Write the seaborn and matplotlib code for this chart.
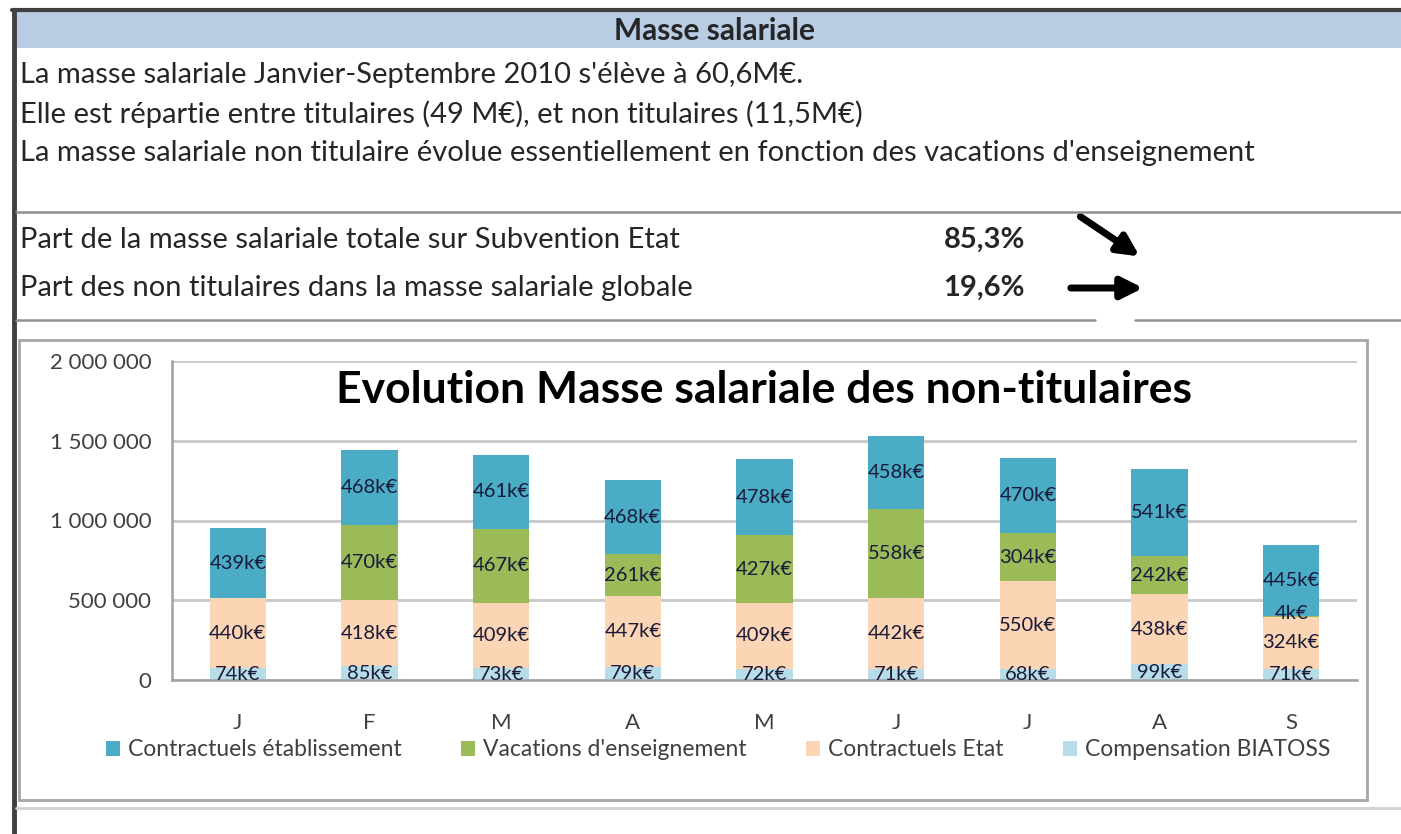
import numpy as np
import pandas as pd
import matplotlib
matplotlib.use('Agg')  # headless
import matplotlib.pyplot as plt
import seaborn as sns
from matplotlib.patches import Rectangle, FancyArrowPatch
from matplotlib.ticker import FuncFormatter, FixedLocator

months = ['J', 'F', 'M', 'A', 'M', 'J', 'J', 'A', 'S']
series = ['Contractuels établissement', "Vacations d'enseignement", 'Contractuels Etat', 'Compensation BIATOSS']
etab = [439, 468, 461, 468, 478, 458, 470, 541, 445]  # k€
vacations = [0, 470, 467, 261, 427, 558, 304, 242, 4]
etat = [440, 418, 409, 447, 409, 442, 550, 438, 324]
biatoss = [74, 85, 73, 79, 72, 71, 68, 99, 71]
colors = ['#4BACC6', '#9BBB59', '#FCD5B4', '#B7DEE8']

intro = ["La masse salariale Janvier-Septembre 2010 s'élève à 60,6M€.",
         "Elle est répartie entre titulaires (49 M€), et non titulaires (11,5M€)",
         "La masse salariale non titulaire évolue essentiellement en fonction des vacations d'enseignement"]
ratios = ['Part de la masse salariale totale sur Subvention Etat',
          'Part des non titulaires dans la masse salariale globale']
ratio_vals = ['85,3%', '19,6%']

sns.set_style('white')
plt.rcParams['font.family'] = ['Lato', 'DejaVu Sans']

W, H = 1401, 834
fig = plt.figure(figsize=(W / 100, H / 100), dpi=100)

# page layer in pixel coords
pg = fig.add_axes([0, 0, 1, 1])
pg.set_xlim(0, W)
pg.set_ylim(H, 0)
pg.axis('off')

pg.add_patch(Rectangle((16, 12), W - 16, 36, color='#B8CCE4', lw=0))  # header band
pg.plot([12, W], [10, 10], color='#404040', lw=3)
pg.plot([14, 14], [10, H], color='#404040', lw=3.5)
pg.text(715, 31, 'Masse salariale', ha='center', va='center', fontsize=21.5, fontweight='bold')
for i, line in enumerate(intro):
    pg.text(20, 75 + 39 * i, line, ha='left', va='center', fontsize=21)

pg.plot([16, W], [212, 212], color='#909090', lw=1.8)
pg.plot([16, 1095], [320, 320], color='#909090', lw=1.8)
pg.plot([1135, W], [320, 320], color='#909090', lw=1.8)
for i, (lab, v) in enumerate(zip(ratios, ratio_vals)):
    y = 240 + 48 * i
    pg.text(20, y, lab, ha='left', va='center', fontsize=21)
    pg.text(1025, y, v, ha='right', va='center', fontsize=21, fontweight='bold')
pg.add_patch(FancyArrowPatch((1078, 215), (1142, 258), arrowstyle='-|>', mutation_scale=32, lw=5, color='black'))
pg.add_patch(FancyArrowPatch((1068, 288), (1146, 288), arrowstyle='-|>', mutation_scale=32, lw=5, color='black'))

# chart frame
pg.add_patch(Rectangle((19, 340), 1348, 460, fill=False, ec='#A6A6A6', lw=2))
pg.plot([16, W], [808, 808], color='#D0D0D0', lw=2)

# long form data
df = pd.DataFrame({
    'mois': np.tile(np.arange(len(months)), 4),
    'serie': np.repeat(series, len(months)),
    'val': np.concatenate([etab, vacations, etat, biatoss]) * 1000,
})

ax = fig.add_axes([172 / W, 1 - 680 / H, (1357 - 172) / W, (680 - 361) / H])
sns.histplot(data=df, x='mois', weights='val', hue='serie', hue_order=series,
             multiple='stack', discrete=True, shrink=0.43, palette=colors,
             alpha=1, linewidth=0, ax=ax)
ax.set_xlim(-0.5, len(months) - 0.5)
ax.set_ylim(0, 2_000_000)
ax.set_yticks(np.arange(0, 2_000_001, 500_000))
ax.yaxis.set_major_formatter(FuncFormatter(lambda v, p: f'{int(v):,}'.replace(',', ' ')))
ax.set_xticks(np.arange(len(months)))
ax.set_xticklabels(months)
ax.xaxis.set_minor_locator(FixedLocator(np.arange(-0.5, len(months), 1)))
ax.tick_params(axis='x', which='major', length=0, pad=24, labelsize=16, colors='#404040')
ax.tick_params(axis='x', which='minor', length=7, width=1.5, color='#A0A0A0', direction='out')
ax.tick_params(axis='y', length=7, width=1.5, color='#A0A0A0', direction='out', labelsize=16,
               pad=8)
for t in ax.get_yticklabels():
    t.set_color('#404040')
ax.grid(axis='y', color='#C8C8C8', lw=2)
ax.set_axisbelow(True)
sns.despine(ax=ax, top=True, right=True)
for s in ['left', 'bottom']:
    ax.spines[s].set_color('#A0A0A0')
    ax.spines[s].set_linewidth(1.8)
ax.set_xlabel('')
ax.set_ylabel('')

# data labels
stack = [biatoss, etat, vacations, etab]  # bottom to top
base = np.zeros(len(months))
for vals in stack:
    vals = np.array(vals)
    for i, v in enumerate(vals):
        if v > 0:
            yc = (base[i] + v / 2) * 1000 if v > 20 else (base[i] + v) * 1000 + 20000
            ax.text(i, yc, f'{v}k€', ha='center', va='center', fontsize=14.5, color='#1a1a3a')
    base += vals

ax.text(0.5, 0.91, 'Evolution Masse salariale des non-titulaires', transform=ax.transAxes,
        ha='center', va='center', fontsize=32, fontweight='bold', color='black')

sns.move_legend(ax, loc='center', bbox_to_anchor=(718 / W, 1 - 750 / H), bbox_transform=fig.transFigure,
                ncol=4, frameon=False, title=None, fontsize=16.5, handlelength=0.6, handleheight=0.6,
                handletextpad=0.35, columnspacing=2.6)
for t in ax.get_legend().get_texts():
    t.set_color('#404040')

fig.savefig('out.png', dpi=100)
